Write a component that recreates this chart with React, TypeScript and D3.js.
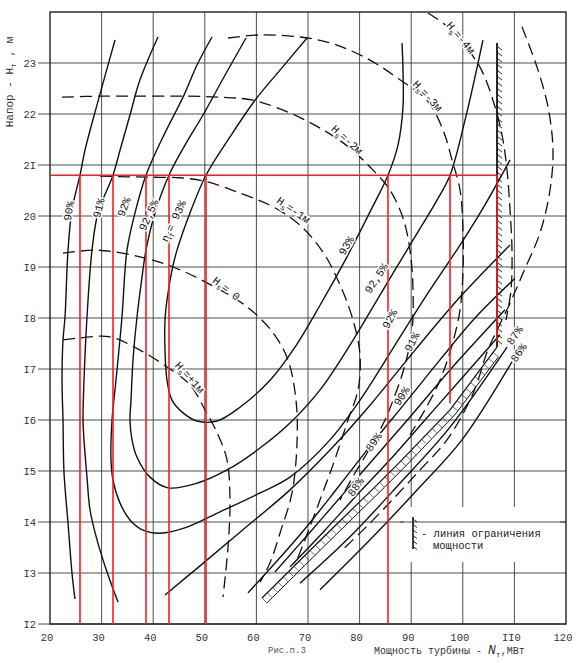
import { useEffect, useRef } from 'react'
import * as d3 from 'd3'

type Pt = [number, number]

// оси
const xTicks = [20, 30, 40, 50, 60, 70, 80, 90, 100, 110, 120]
const xTickLabels = ['20', '30', '40', '50', '60', '70', '80', '90', '100', 'II0', '120']
const yTicks = [12, 13, 14, 15, 16, 17, 18, 19, 20, 21, 22, 23]
const yTickLabels = ['I2', 'I3', 'I4', 'I5', 'I6', 'I7', 'I8', 'I9', '20', '2I', '22', '23']

// линии КПД (N, МВт ; H, м)
const eta90Left: Pt[] = [[24.84, 12.49], [24.26, 13.0], [23.49, 13.98], [22.71, 14.98], [22.52, 16.0], [22.33, 16.78], [22.52, 17.57], [22.91, 18.02], [23.49, 19.33], [24.26, 20.12], [25.81, 20.8], [26.78, 21.29], [29.11, 22.18], [32.6, 23.45]]
const eta91Left: Pt[] = [[33.18, 12.43], [31.05, 13.02], [29.11, 13.65], [27.75, 14.24], [27.17, 14.88], [26.59, 15.61], [26.4, 16.0], [26.59, 16.78], [27.17, 18.02], [28.14, 19.33], [29.3, 20.06], [32.21, 20.8], [33.57, 21.29], [35.5, 21.98], [37.44, 22.67], [40.93, 23.51]]
const eta91Right: Pt[] = [[42.29, 12.57], [49.07, 13.14], [56.82, 13.8], [66.51, 14.63], [74.26, 15.41], [82.02, 16.29], [90.74, 17.37], [99.46, 18.41], [109.15, 19.43]]
const eta92: Pt[] = [[51.4, 23.51], [48.49, 22.96], [45.78, 22.33], [41.9, 21.55], [38.6, 20.8], [36.47, 20.06], [34.92, 19.33], [33.95, 18.02], [32.79, 16.78], [32.02, 16.0], [31.82, 15.22], [32.21, 14.82], [33.57, 14.37], [35.5, 14.04], [38.02, 13.84], [41.32, 13.78], [46.55, 13.9], [52.95, 14.2], [60.7, 14.57], [66.51, 14.88], [74.26, 15.61], [80.08, 16.39], [86.86, 17.47], [93.64, 18.55], [99.46, 19.43], [104.3, 20.22], [109.15, 21.1]]
const eta925: Pt[] = [[57.98, 23.49], [53.91, 22.76], [49.65, 21.98], [46.16, 21.39], [43.06, 20.8], [40.35, 20.06], [38.6, 19.33], [37.64, 18.65], [36.86, 18.02], [36.09, 17.18], [35.7, 16.39], [35.5, 16.0], [35.89, 15.61], [36.86, 15.27], [39.38, 14.88], [42.87, 14.67], [48.49, 14.76], [54.3, 15.02], [60.7, 15.45], [66.51, 15.94], [72.33, 16.59], [78.14, 17.47], [83.95, 18.45], [89.77, 19.43], [95.0, 20.31], [97.52, 20.8], [100.43, 21.88], [103.91, 23.45]]
const eta93: Pt[] = [[69.81, 23.49], [64.57, 22.86], [59.73, 22.27], [54.88, 21.55], [50.23, 20.8], [47.13, 20.06], [44.61, 19.33], [43.64, 18.94], [42.67, 18.35], [42.29, 17.96], [42.29, 17.37], [42.67, 16.78], [43.64, 16.39], [45.78, 16.14], [48.49, 15.98], [52.36, 15.98], [56.82, 16.25], [62.64, 16.78], [67.48, 17.43], [72.33, 18.25], [77.56, 19.2], [82.02, 20.08], [85.5, 20.8], [87.44, 21.39], [88.41, 22.14], [88.41, 22.86], [88.22, 23.39]]
const eta90Right: Pt[] = [[58.37, 12.61], [68.45, 13.75], [76.2, 14.73], [82.99, 15.61], [88.8, 16.33], [95.58, 17.18], [102.36, 18.0], [110.12, 18.78]]
const eta89: Pt[] = [[63.6, 13.02], [70.39, 13.8], [77.17, 14.59], [82.99, 15.27], [89.77, 16.06], [97.52, 16.98], [108.18, 18.16]]
const eta88: Pt[] = [[66.51, 13.12], [73.29, 13.84], [79.5, 14.53], [85.89, 15.22], [92.67, 16.0], [99.46, 16.78], [107.21, 17.67]]
const eta87: Pt[] = [[68.45, 12.8], [78.14, 13.71], [87.83, 14.76], [97.52, 15.86], [108.57, 17.43]]
const eta86: Pt[] = [[72.33, 12.67], [82.02, 13.65], [91.71, 14.69], [99.84, 15.61], [109.53, 17.14]]

// линии высоты отсасывания Hs
const hsPlus1: Pt[] = [[22.52, 17.57], [25.81, 17.61], [31.63, 17.63], [37.44, 17.37], [42.67, 17.04], [47.13, 16.69], [50.04, 16.2], [52.56, 15.71], [54.3, 15.22], [54.88, 14.43], [54.5, 13.51], [53.53, 12.53]]
const hs0: Pt[] = [[22.52, 19.27], [29.11, 19.33], [37.44, 19.2], [43.84, 19.0], [50.43, 18.69], [58.18, 18.22], [63.22, 17.71], [66.12, 17.18], [67.67, 16.39], [67.87, 15.55], [66.9, 14.57], [64.57, 13.78], [62.64, 13.2], [60.7, 12.82]]
const hsMinus1: Pt[] = [[29.69, 20.78], [39.96, 20.76], [45.19, 20.75], [50.43, 20.67], [56.82, 20.45], [63.22, 20.18], [68.45, 19.82], [72.91, 19.29], [76.2, 18.65], [78.72, 17.96], [80.08, 17.27], [79.69, 16.59], [77.75, 16.0], [74.84, 15.12], [71.94, 14.33], [69.42, 13.65], [67.48, 13.16]]
const hsMinus2: Pt[] = [[22.33, 22.33], [29.69, 22.35], [38.41, 22.35], [46.16, 22.35], [52.95, 22.33], [59.34, 22.27], [66.51, 22.02], [72.91, 21.69], [78.14, 21.33], [82.6, 20.9], [85.89, 20.51], [88.41, 19.96], [89.77, 19.33], [90.35, 18.55], [90.16, 17.76], [88.8, 17.08], [86.86, 16.49], [84.92, 16.0], [82.02, 15.45], [79.11, 14.96], [76.2, 14.43]]
const hsMinus3: Pt[] = [[54.5, 23.49], [60.7, 23.55], [68.45, 23.51], [73.68, 23.41], [78.14, 23.25], [82.99, 23.0], [87.83, 22.67], [93.06, 22.27], [96.16, 21.69], [97.91, 21.1], [99.46, 20.51], [100.04, 19.73], [100.04, 18.94], [99.46, 18.16], [97.91, 17.47], [95.58, 16.78], [92.67, 16.2], [89.77, 15.71]]
const hsMinus4: Pt[] = [[93.26, 23.98], [96.55, 23.75], [99.46, 23.45], [103.33, 22.92], [105.85, 22.27], [107.6, 21.59], [108.57, 20.9], [109.15, 20.12], [109.53, 19.33], [109.34, 18.55], [108.37, 17.96]]
const hsOuter: Pt[] = [[111.47, 23.71], [114.38, 22.92], [116.51, 22.14], [117.48, 21.29], [116.9, 20.51], [114.96, 19.67], [111.67, 18.88], [109.15, 18.29], [106.63, 17.76], [104.69, 17.33], [102.95, 16.78], [101.4, 16.39], [96.94, 15.61], [91.71, 15.02], [86.86, 14.49], [81.05, 13.88], [76.2, 13.41]]

// линия ограничения мощности
const limitN = 106.63
const limitTop = 23.39
const limitBottom = 17.43
const limitBand: Pt[] = [[61.09, 12.51], [68.45, 13.25], [76.2, 14.02], [82.99, 14.69], [87.83, 15.18], [97.52, 16.2], [106.63, 17.43]]

// красные построения при H = 20.8 м
const redHead = 20.8
const redPowers = [25.81, 32.21, 38.6, 43.06, 50.23, 85.5, 97.52, 106.63]
const redBottoms = [12, 12, 12, 12, 12, 12, 16.33, 17.53]

// подписи
const etaLabels = [
  { t: '90%', n: 23.6, h: 20.1, r: -80 },
  { t: '91%', n: 29.4, h: 20.16, r: -75 },
  { t: '92%', n: 34.3, h: 20.18, r: -68 },
  { t: '92,5%', n: 39.1, h: 20.02, r: -66 },
  { t: '93%', n: 77.4, h: 19.42, r: -60 },
  { t: '92,5%', n: 83.2, h: 18.78, r: -57 },
  { t: '92%', n: 85.8, h: 17.98, r: -62 },
  { t: '91%', n: 90.1, h: 17.53, r: -62 },
  { t: '90%', n: 88.1, h: 16.47, r: -57 },
  { t: '89%', n: 82.7, h: 15.57, r: -55 },
  { t: '88%', n: 79.2, h: 14.69, r: -55 },
  { t: '87%', n: 110.0, h: 17.66, r: -55 },
  { t: '86%', n: 110.8, h: 17.32, r: -55 }
]
const hsLabels = [
  { v: '=-4м', n: 99.6, h: 23.5, r: 50 },
  { v: '=-3м', n: 93.2, h: 22.36, r: 47 },
  { v: '=-2м', n: 77.6, h: 21.5, r: 42 },
  { v: '=-1м', n: 67.2, h: 20.12, r: 35 },
  { v: '= 0', n: 54.2, h: 18.58, r: 38 },
  { v: '=+1м', n: 47.1, h: 16.84, r: 48 }
]

const FONT = "'Liberation Mono', 'DejaVu Sans Mono', monospace"

export default function App() {
  const svgRef = useRef<SVGSVGElement | null>(null)

  useEffect(() => {
    const svg = d3.select(svgRef.current)
    svg.selectAll('*').remove()

    const x = d3.scaleLinear().domain([20, 120]).range([50, 566])
    const y = d3.scaleLinear().domain([12, 24]).range([624, 12])

    const curve = d3.line<Pt>()
      .x(d => x(d[0]))
      .y(d => y(d[1]))
      .curve(d3.curveCatmullRom.alpha(0.5))

    svg.append('rect').attr('width', 588).attr('height', 663).attr('fill', '#fff')

    // сетка
    const grid = svg.append('g').attr('stroke', '#3a3a3a').attr('stroke-width', 0.9)
    xTicks.slice(1, -1).forEach(v => {
      grid.append('line').attr('x1', x(v)).attr('x2', x(v)).attr('y1', y(24)).attr('y2', y(12))
    })
    yTicks.forEach(v => {
      grid.append('line').attr('x1', 38).attr('x2', x(120)).attr('y1', y(v)).attr('y2', y(v))
    })

    // место под легенду
    svg.append('rect').attr('x', 404).attr('y', 507).attr('width', 156).attr('height', 55).attr('fill', '#fff')
    svg.append('line').attr('x1', 400).attr('x2', x(120)).attr('y1', y(14)).attr('y2', y(14))
      .attr('stroke', '#3a3a3a').attr('stroke-width', 0.9)

    svg.append('rect')
      .attr('x', x(20)).attr('y', y(24))
      .attr('width', x(120) - x(20)).attr('height', y(12) - y(24))
      .attr('fill', 'none').attr('stroke', '#222').attr('stroke-width', 1.4)

    // подписи шкал
    yTicks.forEach((v, i) => {
      svg.append('text').attr('x', 36).attr('y', y(v)).attr('dy', '0.35em')
        .attr('text-anchor', 'end').attr('font-family', FONT).attr('font-size', 10.5).attr('fill', '#333')
        .text(yTickLabels[i])
    })
    xTicks.forEach((v, i) => {
      svg.append('text').attr('x', x(v) - 3).attr('y', 641)
        .attr('text-anchor', 'middle').attr('font-family', FONT).attr('font-size', 10.5).attr('fill', '#333')
        .text(xTickLabels[i])
    })

    // сплошные линии КПД
    const solid = [eta90Left, eta91Left, eta91Right, eta92, eta925, eta93, eta90Right, eta89, eta88, eta87, eta86]
    svg.append('g').selectAll('path').data(solid).enter().append('path')
      .attr('d', d => curve(d))
      .attr('fill', 'none').attr('stroke', '#111').attr('stroke-width', 1.4)

    // штриховые линии Hs
    const dashed = [hsPlus1, hs0, hsMinus1, hsMinus2, hsMinus3, hsMinus4, hsOuter]
    svg.append('g').selectAll('path').data(dashed).enter().append('path')
      .attr('d', d => curve(d))
      .attr('fill', 'none').attr('stroke', '#111').attr('stroke-width', 1.3)
      .attr('stroke-dasharray', '12 6')

    // ограничение мощности: вертикаль со штриховкой
    const lim = svg.append('g').attr('stroke', '#111').attr('stroke-width', 1.2)
    const lx = x(limitN)
    lim.append('line').attr('x1', lx).attr('x2', lx).attr('y1', y(limitTop)).attr('y2', y(limitBottom))
      .attr('stroke-width', 1.8)
    for (let yy = y(limitTop) + 3; yy < y(limitBottom) - 2; yy += 6) {
      lim.append('line').attr('x1', lx).attr('y1', yy).attr('x2', lx + 5).attr('y2', yy + 4).attr('stroke-width', 0.9)
    }

    // ограничение мощности: наклонная полоса-лесенка
    const bandPx = limitBand.map(([n, h]) => [x(n), y(h)] as Pt)
    const seg: { a: Pt; b: Pt; len: number; s0: number }[] = []
    let total = 0
    for (let i = 0; i < bandPx.length - 1; i++) {
      const a = bandPx[i], b = bandPx[i + 1]
      const len = Math.hypot(b[0] - a[0], b[1] - a[1])
      seg.push({ a, b, len, s0: total })
      total += len
    }
    const width = 7
    const offset = (p: Pt, t: Pt): Pt => [p[0] - t[1] * width, p[1] + t[0] * width]
    const lowerPts: Pt[] = []
    const rungs: [Pt, Pt][] = []
    for (let s = 0; s <= total; s += 7.5) {
      const sg = seg.find(q => s >= q.s0 && s <= q.s0 + q.len) || seg[seg.length - 1]
      const k = (s - sg.s0) / sg.len
      const p: Pt = [sg.a[0] + (sg.b[0] - sg.a[0]) * k, sg.a[1] + (sg.b[1] - sg.a[1]) * k]
      const t: Pt = [(sg.b[0] - sg.a[0]) / sg.len, (sg.b[1] - sg.a[1]) / sg.len]
      const q = offset(p, t)
      lowerPts.push(q)
      rungs.push([p, q])
    }
    const band = svg.append('g').attr('stroke', '#111').attr('fill', 'none')
    const poly = d3.line<Pt>().x(d => d[0]).y(d => d[1])
    band.append('path').attr('d', poly(bandPx)).attr('stroke-width', 1.2)
    band.append('path').attr('d', poly(lowerPts)).attr('stroke-width', 1.0)
    rungs.forEach(([p, q]) => {
      band.append('line').attr('x1', p[0]).attr('y1', p[1]).attr('x2', q[0]).attr('y2', q[1])
        .attr('stroke-width', 0.7).attr('stroke', '#333')
    })

    // красные построения
    const red = svg.append('g').attr('stroke', '#ff1a1a').attr('stroke-width', 1.6)
    red.append('line').attr('x1', x(20)).attr('x2', x(redPowers[redPowers.length - 1]))
      .attr('y1', y(redHead)).attr('y2', y(redHead))
    redPowers.forEach((p, i) => {
      red.append('line').attr('x1', x(p)).attr('x2', x(p)).attr('y1', y(redHead)).attr('y2', y(redBottoms[i]))
    })

    // подписи КПД
    const lab = svg.append('g').attr('font-family', FONT).attr('font-size', 11).attr('fill', '#111')
      .attr('stroke', '#fff').attr('stroke-width', 3).attr('paint-order', 'stroke')
      .attr('text-anchor', 'middle')
    etaLabels.forEach(l => {
      lab.append('text').attr('transform', `translate(${x(l.n)},${y(l.h)}) rotate(${l.r})`)
        .attr('dy', '0.35em').text(l.t)
    })
    const etaT = lab.append('text')
      .attr('transform', `translate(${x(43.9)},${y(19.9)}) rotate(-65)`).attr('dy', '0.35em')
    etaT.append('tspan').text('η')
    etaT.append('tspan').attr('font-size', 8).attr('dy', 3).text('т')
    etaT.append('tspan').attr('dy', -3).text('= 93%')

    hsLabels.forEach(l => {
      const t = lab.append('text').attr('transform', `translate(${x(l.n)},${y(l.h)}) rotate(${l.r})`)
        .attr('dy', '0.35em')
      t.append('tspan').text('H')
      t.append('tspan').attr('font-size', 8).attr('dy', 3).text('s')
      t.append('tspan').attr('dy', -3).text(l.v)
    })

    // легенда
    const lgX = 413
    svg.append('line').attr('x1', lgX).attr('x2', lgX).attr('y1', 517).attr('y2', 549)
      .attr('stroke', '#111').attr('stroke-width', 1.6)
    for (let yy = 519; yy < 548; yy += 5.5) {
      svg.append('line').attr('x1', lgX).attr('y1', yy).attr('x2', lgX + 4).attr('y2', yy + 3)
        .attr('stroke', '#111').attr('stroke-width', 0.9)
    }
    svg.append('text').attr('x', 421).attr('y', 537).attr('font-family', FONT).attr('font-size', 10.5)
      .attr('fill', '#222').text('- линия ограничения')
    svg.append('text').attr('x', 433).attr('y', 549).attr('font-family', FONT).attr('font-size', 10.5)
      .attr('fill', '#222').text('мощности')

    // заголовки осей
    const yt = svg.append('text').attr('transform', 'translate(13,82) rotate(-90)')
      .attr('text-anchor', 'middle').attr('font-family', FONT).attr('font-size', 11).attr('fill', '#333')
    yt.append('tspan').text('Напор - H')
    yt.append('tspan').attr('font-size', 8).attr('dy', 3).text('т')
    yt.append('tspan').attr('dy', -3).text(' , м')

    svg.append('text').attr('x', 268).attr('y', 653).attr('font-family', FONT).attr('font-size', 9)
      .attr('fill', '#555').text('Рис.п.3')
    const xt = svg.append('text').attr('x', 374).attr('y', 654).attr('font-family', FONT)
      .attr('font-size', 10).attr('fill', '#333')
    xt.append('tspan').text('Мощность турбины - ')
    xt.append('tspan').attr('font-style', 'italic').attr('font-size', 13).text('N')
    xt.append('tspan').attr('font-size', 8).attr('dy', 3).text('т')
    xt.append('tspan').attr('dy', -3).text(',МВт')
  }, [])

  return (
    <svg ref={svgRef} width={588} height={663}
      style={{ position: 'absolute', left: 0, top: 0, background: '#fff' }} />
  )
}
